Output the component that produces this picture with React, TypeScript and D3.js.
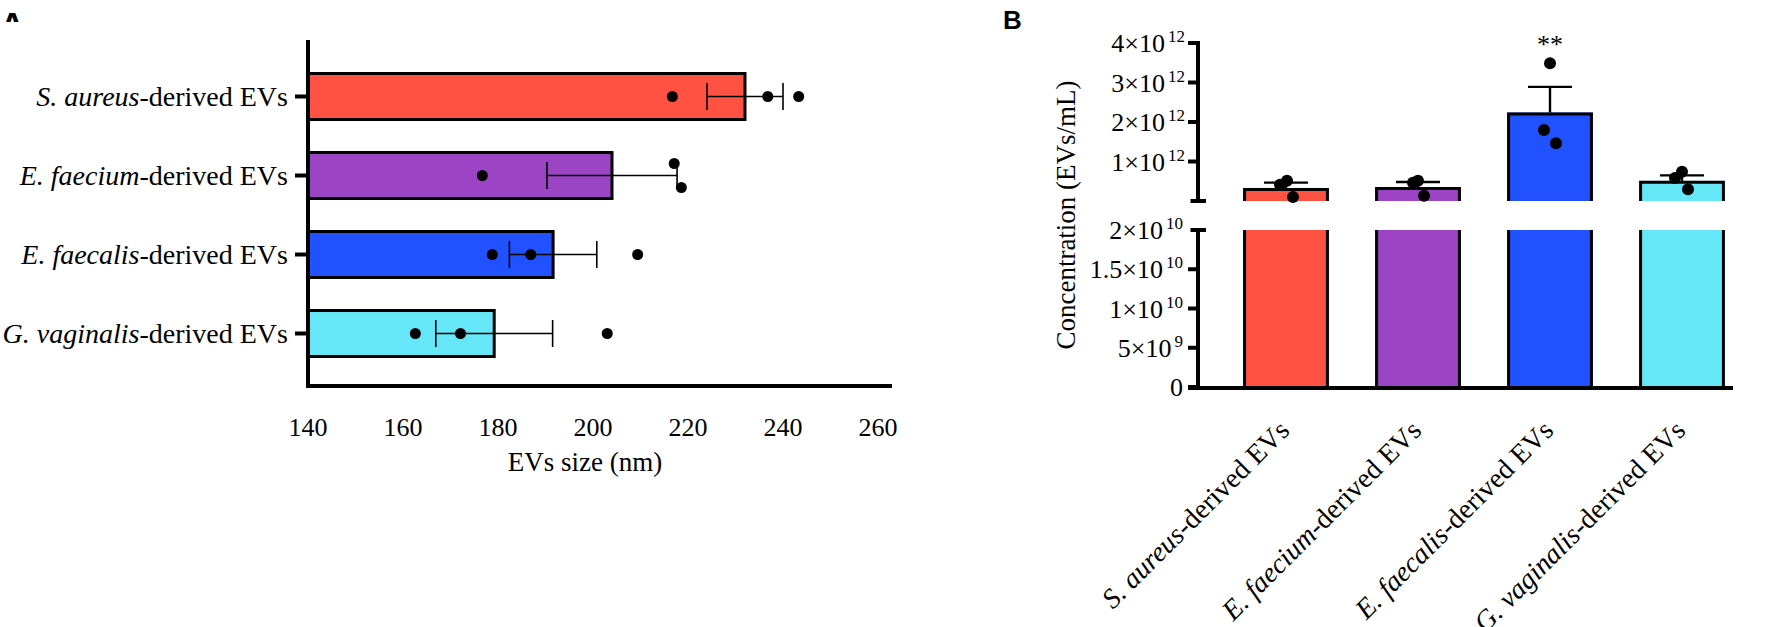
import * as d3 from "d3";
import * as React from "react";

// categories
const species = ["S. aureus", "E. faecium", "E. faecalis", "G. vaginalis"];
const suffix = "-derived EVs";
const barColors = ["#FF5242", "#9C45C4", "#2152FF", "#65E7F8"];

// panel A: EVs size (nm)
const sizeMean = [232, 204, 191.6, 179.2];
const sizeSem = [8, 13.7, 9.2, 12.3];
const sizePoints = [
  [216.7, 236.8, 243.3],
  [176.7, 217.1, 218.6],
  [178.8, 186.9, 209.4],
  [162.6, 172.1, 203],
];
const sizeTicks = [140, 160, 180, 200, 220, 240, 260];

// panel B: concentration (EVs/mL)
const concMean = [0.33e12, 0.355e12, 2.24e12, 0.51e12];
const concSem = [0.135e12, 0.125e12, 0.65e12, 0.14e12];
const concPoints = [
  [0.41e12, 0.51e12, 0.1e12],
  [0.46e12, 0.51e12, 0.13e12],
  [3.49e12, 1.8e12, 1.46e12],
  [0.58e12, 0.74e12, 0.3e12],
];
const concStars = ["", "", "**", ""];
const upperTicks = [1e12, 2e12, 3e12, 4e12];
const lowerTicks = [0, 5e9, 1e10, 1.5e10, 2e10];

// small offsets so overlapping dots stay visible
const jitterA = [
  [0, 0, 0],
  [0, -12, 12],
  [0, 0, 0],
  [0, 0, 0],
];
const jitterB = [
  [-6, 1, 7],
  [-5, 0, 6],
  [0, -6, 6],
  [-7, 0, 6],
];

const serif = "'Liberation Serif', 'Times New Roman', serif";
const sans = "'Liberation Sans', Arial, sans-serif";

function Label({ name }: { name: string }) {
  return (
    <>
      <tspan fontStyle="italic">{name}</tspan>
      <tspan>{suffix}</tspan>
    </>
  );
}

function sciLabel(v: number, x: number, y: number) {
  if (v === 0) {
    return (
      <text key={v} x={x} y={y + 9} textAnchor="end" fontSize={26}>
        0
      </text>
    );
  }
  const [m, e] = v.toExponential().split("e");
  return (
    <text key={v} x={x} y={y + 9} textAnchor="end" fontSize={26}>
      {m}×10
      <tspan dx={3} dy={-10} fontSize={17}>
        {e.replace("+", "")}
      </tspan>
    </text>
  );
}

function PanelA() {
  const x = d3.scaleLinear().domain([140, 260]).range([308, 878]);
  const y = d3
    .scaleBand()
    .domain(species)
    .range([57, 373])
    .paddingInner(0.38)
    .paddingOuter(0.19);
  const bw = y.bandwidth();
  const axisY = 386;

  return (
    <g fontFamily={serif}>
      <clipPath id="clipA">
        <rect x={0} y={0} width={40} height={22} />
      </clipPath>
      <text x={0} y={36} fontFamily={sans} fontWeight="bold" fontSize={34} clipPath="url(#clipA)">
        A
      </text>

      {species.map((s, i) => (
        <rect
          key={s}
          x={x(140)}
          y={y(s)! + 1.5}
          width={x(sizeMean[i]) - x(140)}
          height={bw - 3}
          fill={barColors[i]}
          stroke="#000"
          strokeWidth={3}
        />
      ))}

      {species.map((s, i) => {
        const cy = y(s)! + bw / 2;
        const lo = x(sizeMean[i] - sizeSem[i]);
        const hi = x(sizeMean[i] + sizeSem[i]);
        return (
          <g key={s} stroke="#000" strokeWidth={1.6}>
            <line x1={lo} x2={hi} y1={cy} y2={cy} />
            <line x1={lo} x2={lo} y1={cy - 13.5} y2={cy + 13.5} />
            <line x1={hi} x2={hi} y1={cy - 13.5} y2={cy + 13.5} />
          </g>
        );
      })}

      {species.map((s, i) =>
        sizePoints[i].map((v, j) => (
          <circle
            key={s + j}
            cx={x(v)}
            cy={y(s)! + bw / 2 + jitterA[i][j]}
            r={5.5}
            fill="#000"
          />
        ))
      )}

      {/* axes */}
      <line x1={308} x2={308} y1={40} y2={axisY + 2} stroke="#000" strokeWidth={4} />
      <line x1={306} x2={892} y1={axisY} y2={axisY} stroke="#000" strokeWidth={4} />
      {species.map((s) => {
        const cy = y(s)! + bw / 2;
        return (
          <g key={s}>
            <line x1={295} x2={308} y1={cy} y2={cy} stroke="#000" strokeWidth={4} />
            <text x={288} y={cy + 9} textAnchor="end" fontSize={28}>
              <Label name={s} />
            </text>
          </g>
        );
      })}
      {sizeTicks.map((t) => (
        <text key={t} x={x(t)} y={436} textAnchor="middle" fontSize={26}>
          {t}
        </text>
      ))}
      <text x={585} y={471} textAnchor="middle" fontSize={27}>
        EVs size (nm)
      </text>
    </g>
  );
}

function PanelB() {
  const x = d3
    .scaleBand()
    .domain(species)
    .range([1220, 1748])
    .paddingInner(0.35)
    .paddingOuter(0.175);
  const bw = x.bandwidth();
  const yUp = d3.scaleLinear().domain([0, 4e12]).range([201, 43]);
  const yLow = d3.scaleLinear().domain([0, 2e10]).range([387, 230]);
  const axX = 1198;
  const axisY = 388;

  return (
    <g fontFamily={serif}>
      <text x={1003} y={29} fontFamily={sans} fontWeight="bold" fontSize={26}>
        B
      </text>

      {species.map((s, i) => {
        const x0 = x(s)!;
        const x1 = x0 + bw;
        const top = yUp(concMean[i]);
        const lowTop = yLow(2e10);
        return (
          <g key={s}>
            <rect x={x0} y={lowTop} width={bw} height={axisY - lowTop} fill={barColors[i]} />
            <path
              d={`M${x0 + 1.5},${lowTop}V${axisY}M${x1 - 1.5},${lowTop}V${axisY}`}
              fill="none"
              stroke="#000"
              strokeWidth={3}
            />
            <rect x={x0} y={top} width={bw} height={yUp(0) - top} fill={barColors[i]} />
            <path
              d={`M${x0 + 1.5},${yUp(0)}V${top + 1.5}H${x1 - 1.5}V${yUp(0)}`}
              fill="none"
              stroke="#000"
              strokeWidth={3}
            />
          </g>
        );
      })}

      {species.map((s, i) => {
        const cx = x(s)! + bw / 2;
        const top = yUp(concMean[i]);
        const cap = yUp(concMean[i] + concSem[i]);
        return (
          <g key={s} stroke="#000" strokeWidth={2.4}>
            <line x1={cx} x2={cx} y1={top} y2={cap} />
            <line x1={cx - 22} x2={cx + 22} y1={cap} y2={cap} />
          </g>
        );
      })}

      {species.map((s, i) =>
        concPoints[i].map((v, j) => (
          <circle
            key={s + j}
            cx={x(s)! + bw / 2 + jitterB[i][j]}
            cy={yUp(v)}
            r={6}
            fill="#000"
          />
        ))
      )}

      {species.map((s, i) =>
        concStars[i] ? (
          <text key={s} x={x(s)! + bw / 2} y={53} textAnchor="middle" fontSize={26}>
            {concStars[i]}
          </text>
        ) : null
      )}

      {/* broken y axis */}
      <g stroke="#000" strokeWidth={4}>
        <line x1={axX} x2={axX} y1={yUp(4e12) - 2} y2={yUp(0)} />
        <line x1={axX - 7.5} x2={axX + 8} y1={yUp(0)} y2={yUp(0)} />
        {upperTicks.map((t) => (
          <line key={t} x1={axX - 10} x2={axX} y1={yUp(t)} y2={yUp(t)} />
        ))}
        <line x1={axX} x2={axX} y1={yLow(2e10)} y2={axisY} />
        <line x1={axX - 7.5} x2={axX + 8} y1={yLow(2e10)} y2={yLow(2e10)} />
        {lowerTicks
          .filter((t) => t < 2e10)
          .map((t) => (
            <line key={t} x1={axX - 10} x2={axX} y1={yLow(t)} y2={yLow(t)} />
          ))}
        <line x1={axX - 10} x2={1733} y1={axisY} y2={axisY} />
      </g>
      {upperTicks.map((t) => sciLabel(t, 1185, yUp(t)))}
      {lowerTicks.map((t) => sciLabel(t, 1183, yLow(t)))}

      <text
        transform="translate(1075,215) rotate(-90)"
        textAnchor="middle"
        fontSize={27}
      >
        Concentration (EVs/mL)
      </text>

      {species.map((s) => (
        <text
          key={s}
          transform={`translate(${x(s)! + bw / 2 + 5},432) rotate(-45)`}
          textAnchor="end"
          fontSize={28}
        >
          <Label name={s} />
        </text>
      ))}
    </g>
  );
}

export default function App() {
  return (
    <svg
      width={1772}
      height={627}
      viewBox="0 0 1772 627"
      style={{ position: "absolute", left: 0, top: 0, background: "#fff" }}
    >
      <rect width={1772} height={627} fill="#fff" />
      <PanelA />
      <PanelB />
    </svg>
  );
}
